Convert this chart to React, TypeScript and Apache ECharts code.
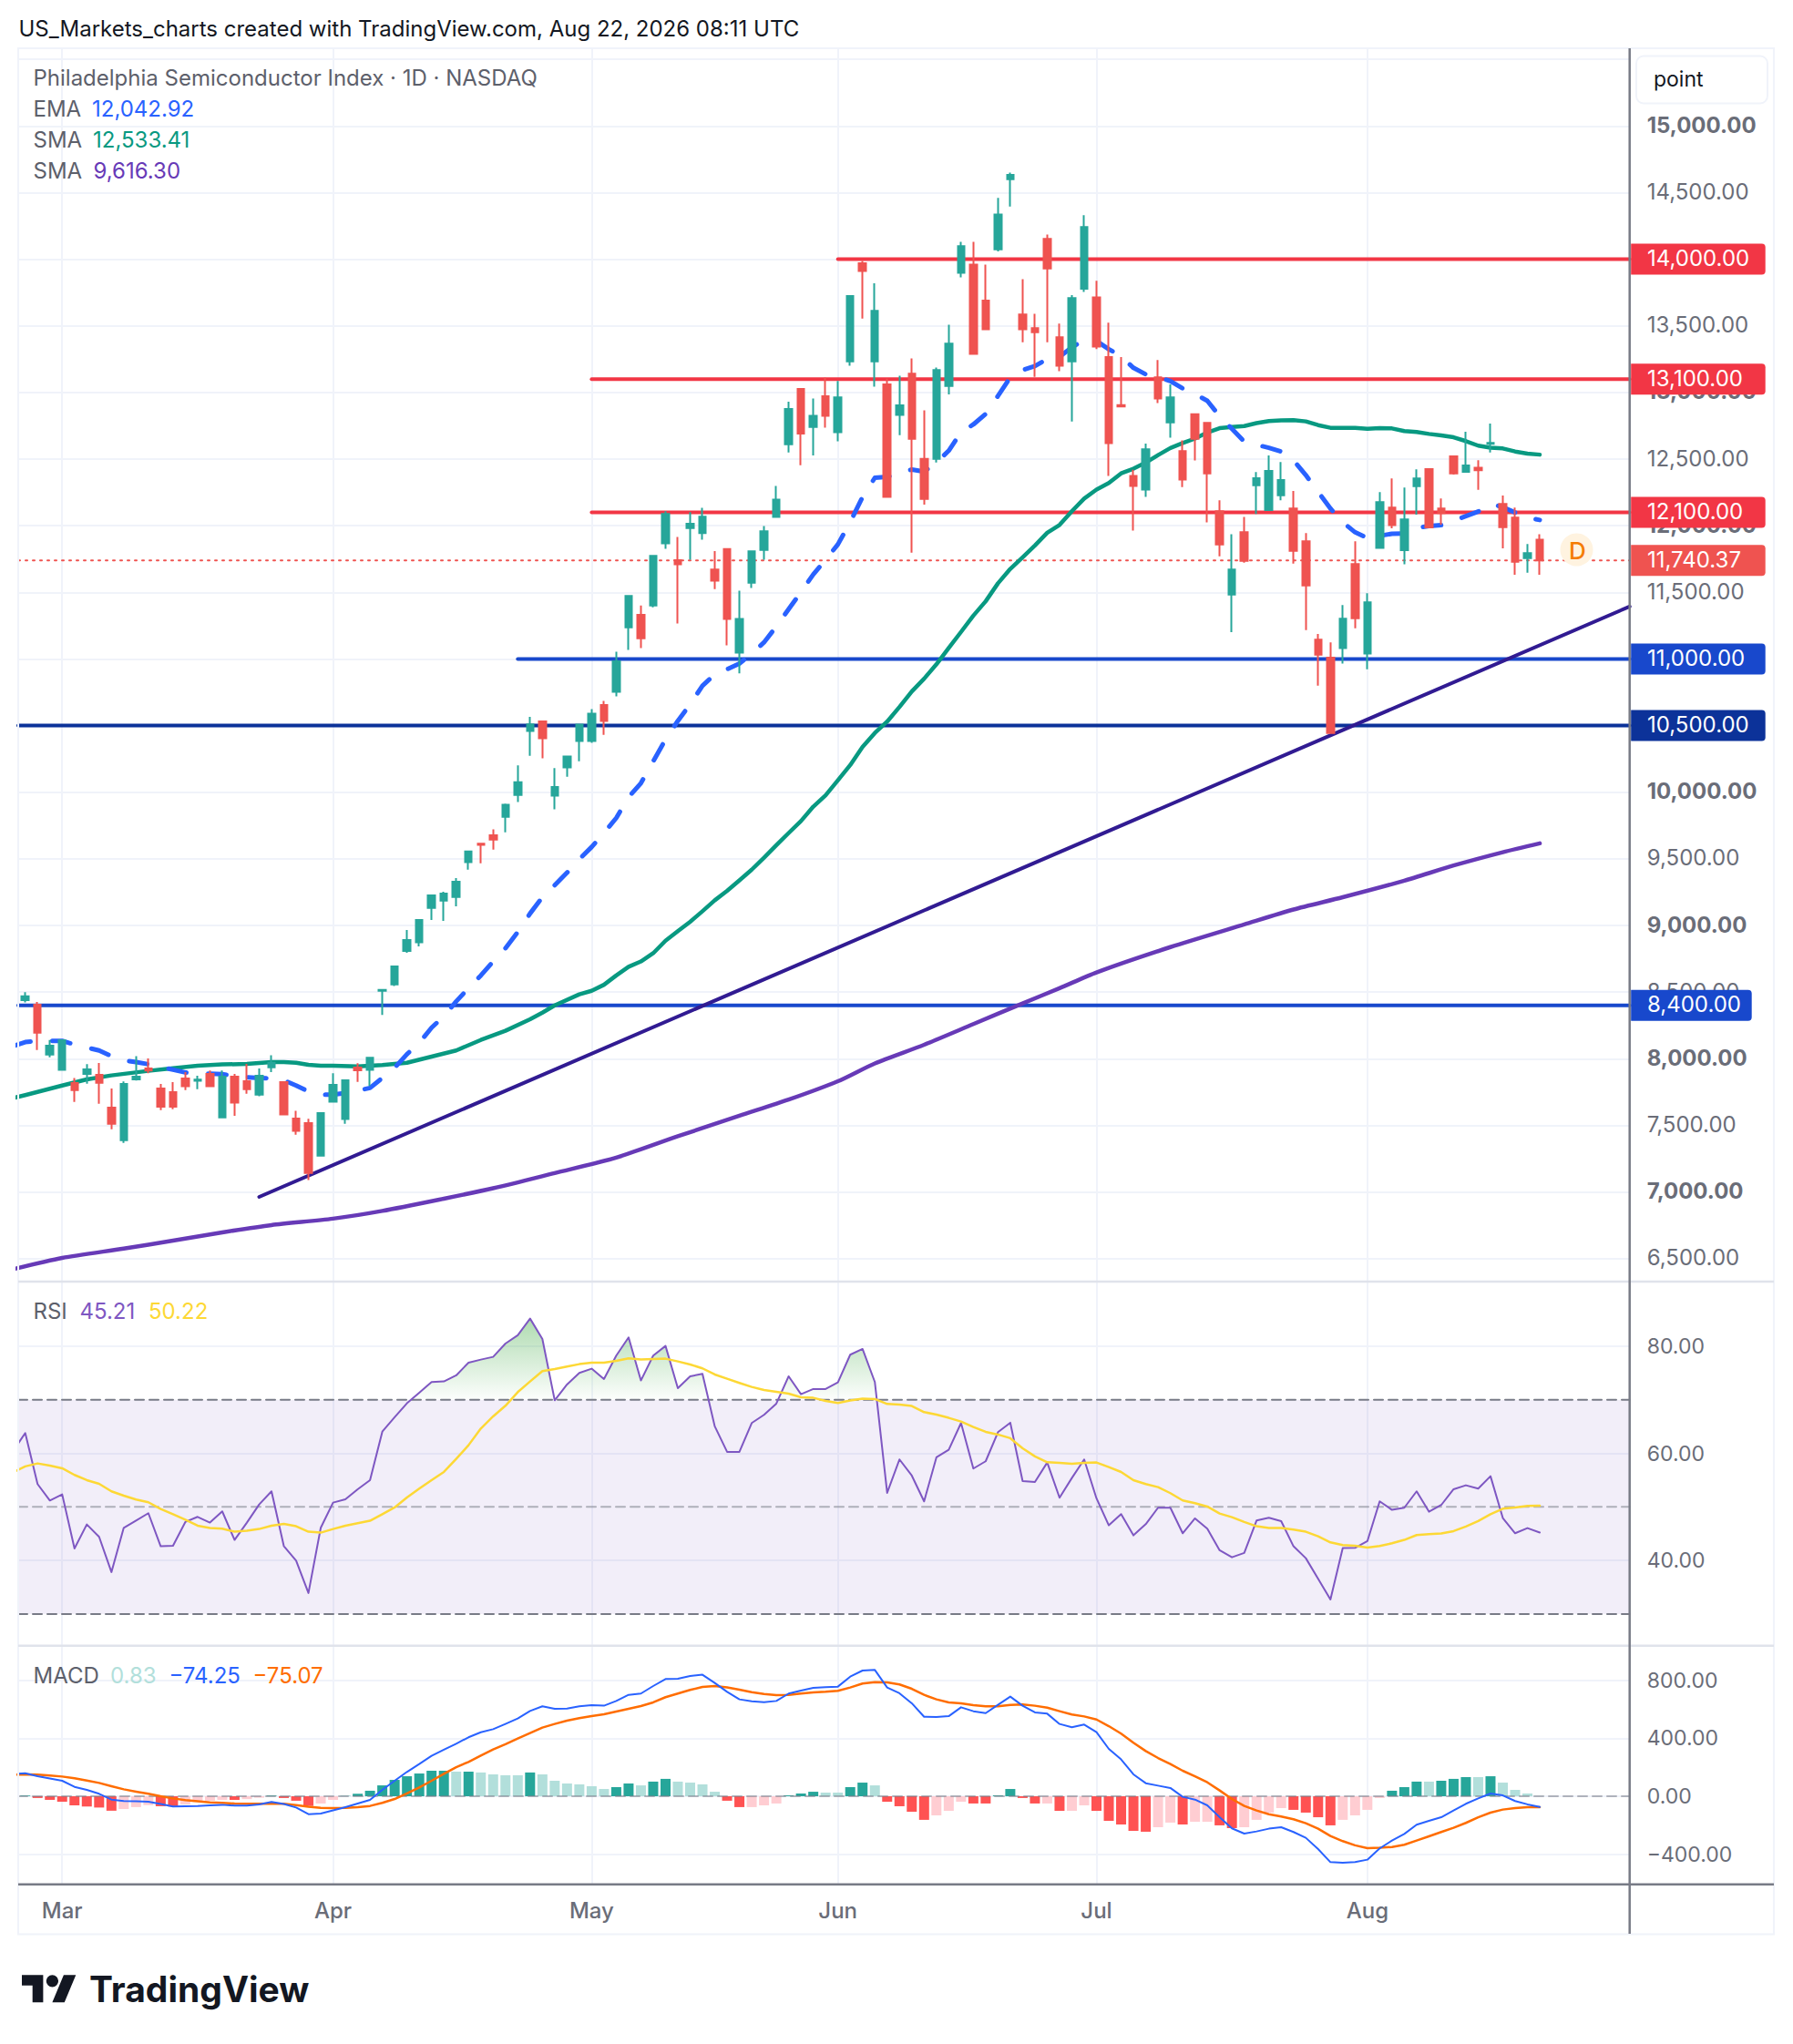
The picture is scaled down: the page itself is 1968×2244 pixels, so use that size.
import React, { useEffect, useRef } from "react";
import * as echarts from "echarts";

const monthNames = ["Mar", "Apr", "May", "Jun", "Jul", "Aug"];
const monthBars = [3, 25, 46, 66, 87, 109];

const opens = [8440,8406,8032,7916,7818,7886,7879,7633,7389,7845,7927,7777,7749,7852,7834,7886,7560,7866,7831,7731,7936,7825,7551,7517,7273,7677,7547,7934,7916,8510,8558,8809,8873,9132,9187,9214,9475,9614,9677,9815,9980,10459,10532,9974,10187,10385,10385,10654,10753,11238,11332,11402,11867,11742,11983,11944,11672,11825,11048,11572,11819,12066,12612,13027,12741,12971,12701,13233,13969,13233,13060,12831,13141,12501,12501,13049,13898,13960,13690,14074,14601,13585,13482,14152,13414,13233,13779,13714,13266,12905,12374,12271,13114,12776,12560,12836,12771,12109,11484,11952,12304,12117,12229,12129,11883,11145,11010,11081,11712,11040,11833,12136,11817,12297,12425,12129,12521,12405,12436,12614,12163,12061,11757,11896];
const highs = [8499,8426,8141,8145,7856,7959,7968,7777,7829,8020,8002,7811,7825,7900,7872,7911,7911,7886,7961,7927,8027,7830,7610,7549,7592,7891,7843,7966,8007,8517,8695,8966,9046,9226,9253,9356,9560,9614,9722,9915,10201,10566,10535,10181,10269,10515,10623,10685,11054,11473,11402,11774,12108,11915,12102,12134,11810,11825,11513,11813,11998,12298,12931,13033,12955,13112,13087,13731,13987,13820,13103,13125,13255,12866,13187,13509,14131,14131,13960,14460,14650,13850,13590,14185,13517,13731,14331,13839,13523,13266,12420,12617,13244,13060,12641,12841,12771,12190,11936,12066,12402,12528,12478,12261,11944,11188,11124,11404,11883,11493,12252,12354,12286,12423,12430,12204,12525,12705,12491,12767,12227,12136,11862,11937];
const lows = [8422,8066,8011,7910,7676,7813,7663,7471,7369,7836,7891,7615,7622,7765,7772,7790,7553,7572,7738,7718,7900,7575,7430,7089,7273,7675,7512,7827,7795,8328,8545,8795,8843,9041,9034,9144,9419,9467,9569,9699,9926,10274,10255,9872,10116,10232,10371,10430,10719,11068,11082,11388,11827,11266,11745,11895,11524,11102,10892,11533,11745,12066,12550,12454,12528,12736,12633,13201,13555,13044,12217,12679,11798,12158,12474,12985,13863,13290,13474,14058,14396,13377,13117,13377,13160,12782,13755,13325,12374,12895,11963,12217,12920,12660,12290,12490,12025,11771,11201,11722,12088,12111,12190,11716,11217,10800,10445,10965,11231,10923,11833,11981,11710,12083,11988,12008,12384,12398,12270,12550,11830,11632,11648,11632];
const closes = [8469,8196,8098,8139,7765,7920,7820,7512,7811,7866,7911,7640,7640,7793,7843,7793,7866,7670,7772,7872,7970,7581,7458,7143,7592,7804,7838,7913,8007,8517,8693,8891,9041,9226,9240,9328,9555,9606,9645,9906,10076,10510,10405,10039,10269,10507,10589,10535,10983,11473,11156,11774,12088,11711,12015,12068,11587,11300,11300,11808,11958,12196,12876,12692,12825,12825,12963,13723,13912,13612,12217,12904,12652,12201,13168,13366,14098,13290,13474,14336,14633,13474,13452,13931,13201,13709,14242,13344,12620,12895,12298,12574,12955,12963,12347,12652,12393,11860,11671,11736,12357,12411,12343,11812,11552,11033,10445,11302,11306,11425,12177,12004,12047,12354,11988,12095,12393,12452,12416,12621,11990,11730,11794,11740.37];

// first value of each indicator below belongs to the bar before the first candle
const ema = [8095,8125,8134,8134,8134,8107,8084,8062,8020,7986,7975,7959,7939,7918,7897,7891,7888,7884,7872,7861,7856,7852,7838,7799,7754,7729,7731,7743,7761,7781,7856,7932,8034,8118,8233,8319,8430,8530,8625,8730,8829,8951,9090,9212,9302,9396,9498,9589,9694,9807,9963,10068,10232,10396,10535,10660,10799,10884,10923,10966,11040,11125,11244,11374,11502,11635,11745,11860,12028,12215,12360,12366,12398,12422,12406,12474,12563,12701,12760,12839,12974,13114,13168,13198,13252,13268,13339,13393,13387,13325,13271,13185,13136,13116,13085,13030,12988,12938,12822,12727,12632,12607,12585,12557,12491,12380,12254,12129,12026,11951,11908,11924,11940,11942,11985,11997,12004,12038,12072,12106,12165,12140,12099,12061,12042.92];

const sma50Bars = [-1,0,3,5,7,10,12,14,16,18,20,21,22,23,24,25,27,29,31,33,35,37,39,41,42,43,45,46,47,48,49,50,51,52,53,54,55,56,57,58,59,60,61,62,63,64,65,66,67,68,69,70,71,72,73,74,75,76,77,78,79,80,81,82,83,84,85,86,87,88,89,90,91,92,93,94,95,96,97,98,99,100,101,102,103,104,105,106,107,108,109,110,111,112,113,114,115,116,117,118,119,120,121,122,123];
const sma50Values = [7705,7727,7799,7845,7875,7909,7929,7948,7957,7961,7975,7975,7970,7954,7948,7948,7943,7952,7970,8016,8062,8141,8210,8296,8346,8400,8483,8510,8555,8625,8690,8730,8792,8886,8957,9028,9107,9189,9260,9339,9419,9509,9603,9694,9784,9892,9977,10090,10204,10340,10445,10530,10640,10756,10852,10960,11082,11203,11325,11433,11568,11676,11763,11852,11947,12006,12109,12204,12271,12320,12393,12428,12474,12530,12583,12620,12654,12700,12732,12741,12748,12770,12785,12790,12792,12783,12755,12735,12735,12735,12728,12733,12730,12710,12703,12689,12678,12664,12635,12601,12585,12580,12557,12541,12533.41];

const sma200Bars = [-1,3,8,12,16,20,25,29,34,38,43,48,53,58,62,66,69,73,77,81,84,87,93,99,103,107,112,116,120,123];
const sma200Values = [6420,6505,6575,6635,6697,6752,6800,6858,6950,7028,7142,7258,7418,7572,7693,7831,7965,8105,8260,8415,8529,8648,8838,9008,9120,9212,9336,9450,9550,9616.3];

const rsi = [60.4,63.79,54.27,51.2,52.34,42.25,46.73,44.4,37.83,46.1,47.46,48.83,42.65,42.76,47.18,48.14,47.07,49.17,43.84,47.07,50.47,52.91,42.7,39.98,33.92,46.1,50.81,51.43,53.3,55.0,64.07,66.74,69.35,71.33,73.32,73.43,74.56,76.94,77.51,78.02,80.51,82.05,85.16,81.36,69.91,72.86,75.02,75.81,73.88,78.25,81.65,73.6,78.25,80.06,72.18,74.39,74.85,65.04,60.28,60.28,65.66,67.19,69.29,74.39,71.05,72.01,72.01,73.26,78.42,79.49,73.32,52.62,58.86,55.85,51.04,59.26,60.67,65.66,57.16,58.52,63.96,65.72,54.83,54.66,58.29,51.72,55.4,58.86,51.6,46.56,48.66,44.69,46.78,49.85,49.85,45.08,47.86,45.93,41.91,40.6,41.4,47.46,47.97,47.35,42.65,40.43,36.58,32.73,42.31,42.36,43.61,51.04,49.45,49.85,52.91,49.11,50.36,53.3,54.04,53.42,55.74,47.92,45.08,46.05,45.21];
const rsiMa = [56.42,57.56,58.12,57.73,57.21,55.97,55.0,54.32,52.91,52.11,51.38,50.87,49.62,48.65,47.63,46.5,46.05,45.93,45.37,45.54,45.88,46.5,46.84,46.39,45.37,45.2,45.88,46.5,46.95,47.41,48.65,49.9,51.77,53.42,55.0,56.53,58.97,61.52,64.64,66.91,68.89,71.44,73.43,75.36,75.75,76.21,76.66,76.94,76.94,77.28,77.74,77.51,77.62,77.68,77.17,76.6,75.87,74.73,73.94,73.15,72.41,71.84,71.5,71.16,70.48,70.37,69.8,69.4,69.86,70.2,70.14,69.23,69.12,68.84,67.7,67.25,66.63,65.95,64.93,64.02,63.51,62.83,60.96,59.43,58.35,58.24,58.07,58.24,58.29,57.44,56.53,55.0,54.27,53.7,52.57,51.21,50.7,50.07,48.77,48.09,47.18,46.39,46.05,46.05,45.76,45.37,44.52,43.38,42.87,42.76,42.42,42.7,43.21,43.84,44.74,44.91,45.03,45.48,46.33,47.35,48.65,49.67,49.9,50.19,50.22];

const macd = [153,159,138,122,107,65,44,17,-23,-33,-35,-38,-54,-71,-69,-67,-63,-59,-65,-65,-56,-40,-54,-78,-124,-119,-98,-75,-50,-25,44,107,168,222,279,321,363,407,442,463,499,537,589,621,604,606,621,629,625,658,700,709,761,809,811,830,839,782,721,669,656,650,658,709,730,748,753,757,826,868,872,751,711,642,549,547,553,614,587,574,631,688,625,579,570,499,476,495,442,327,254,151,90,73,57,-4,-23,-63,-145,-222,-258,-243,-224,-214,-247,-287,-365,-455,-459,-455,-438,-360,-306,-260,-197,-170,-145,-98,-52,-15,19,6,-33,-56,-74.25];
const macdSignal = [149,151,149,143,136,124,109,92,69,48,32,17,0,-15,-27,-35,-42,-46,-50,-52,-52,-50,-52,-61,-73,-80,-82,-80,-75,-67,-46,-19,19,61,107,155,201,237,281,323,359,398,436,474,499,522,539,554,566,585,604,623,648,684,709,734,755,761,751,736,719,706,698,700,709,717,721,728,751,778,788,786,772,742,700,669,648,642,629,621,621,631,633,625,612,587,564,551,530,484,432,369,312,264,222,176,138,96,40,-19,-67,-98,-124,-140,-159,-186,-224,-274,-310,-339,-358,-356,-350,-335,-306,-277,-247,-218,-184,-145,-113,-92,-82,-75,-75.07];
const macdHist = [4,-12,-25,-38,-63,-71,-78,-100,-88,-75,-61,-69,-71,-57,-40,-31,-25,-25,-20,-10,5,-12,-31,-67,-50,-25,2,17,38,75,113,138,157,176,176,170,170,164,151,145,145,164,151,107,88,82,69,50,63,88,75,101,120,101,94,82,31,-31,-75,-75,-63,-50,6,19,31,25,25,63,94,75,-38,-69,-107,-163,-132,-101,-38,-50,-50,6,50,-12,-50,-50,-101,-101,-63,-101,-170,-195,-239,-245,-214,-182,-195,-176,-176,-201,-220,-214,-163,-113,-82,-94,-113,-145,-201,-163,-132,-94,-12,38,63,101,101,107,120,132,132,138,94,44,19,0.83];
const macdHistPaleBars = [8,9,10,13,14,15,16,18,19,24,25,35,37,38,39,40,42,43,44,45,46,47,50,53,54,55,56,59,60,61,65,66,69,74,75,76,83,85,86,92,93,95,96,99,100,101,102,107,108,109,110,114,118,120,121,122,123];

const rsiLevels = [70, 50, 30];
const rsiTicks = [40, 60, 80];
const macdTicks = [-400, 0, 400, 800];
const priceGrid = [6500,7000,7500,8000,8500,9000,9500,10000,10500,11000,11500,12000,12500,13000,13500,14000,14500,15000,15500];
const priceLabels = [6500,7000,7500,8000,8500,9000,9500,10000,10500,11000,11500,12000,12500,13000,13500,14000,14500,15000];

const levelValues = [14000, 13100, 12100, 11000, 10500, 8400];
const levelStartBars = [66, 46, 46, 40, null, null];
const levelColors = ["#f23645", "#f23645", "#f23645", "#1848cc", "#0c3299", "#1848cc"];
const lastPrice = 11740.37;
const trendBars = [19, null];
const trendValues = [6963, 11394];

const FONT = "Inter, sans-serif";
const TEXT = "#6a6d78";
const GRID = "#f0f3fa";
const L = 20;
const R = 1788.7;
const END = 1947;
const xMin = -0.57;
const xMax = 130.3;
const paleSet = new Set(macdHistPaleBars);
const money = (v: number) =>
  v.toLocaleString("en-US", { minimumFractionDigits: 2, maximumFractionDigits: 2 });

echarts.graphic.registerShape(
  "tvlogo",
  echarts.graphic.extendPath(
    "M14 22H7V11H0V4h14v18zM28 22h-8l7.5-18h8L28 22zM24 8a4 4 0 1 1-8 0 4 4 0 0 1 8 0z",
    {}
  )
);

function lineSeries(name: string, data: any[], axis: number, color: string, width: number, z: number, type: any = "solid", extra: any = {}) {
  return {
    name,
    type: "line",
    xAxisIndex: axis,
    yAxisIndex: axis,
    data,
    showSymbol: false,
    symbol: "none",
    silent: true,
    z,
    lineStyle: { color, width, type, cap: "round", join: "round" },
    ...extra,
  };
}
const indexed = (arr: number[]) => arr.map((v, i) => [i - 1, v]);
const paired = (bars: number[], vals: number[]) => bars.map((b, i) => [b, vals[i]]);

function xAxis(index: number) {
  return {
    type: "value",
    gridIndex: index,
    min: xMin,
    max: xMax,
    axisLine: { show: false },
    axisTick: { show: false, customValues: monthBars },
    splitLine: { show: true, lineStyle: { color: GRID, width: 2 } },
    axisLabel:
      index === 2
        ? {
            show: true,
            customValues: monthBars,
            formatter: (v: number) => monthNames[monthBars.indexOf(v)],
            color: TEXT,
            fontFamily: FONT,
            fontSize: 24,
            fontWeight: 500,
            margin: 17,
          }
        : { show: false },
  };
}
function yAxis(index: number, min: number, max: number, ticks: number[], labels: number[], formatter: any, fontSize: number, rich?: any) {
  return {
    type: "value",
    gridIndex: index,
    position: "right",
    min,
    max,
    axisLine: { show: false },
    axisTick: { show: false, customValues: ticks },
    splitLine: { show: true, lineStyle: { color: GRID, width: 2 } },
    axisLabel: {
      show: true,
      customValues: labels,
      formatter,
      rich,
      color: TEXT,
      fontFamily: FONT,
      fontSize,
      margin: 19,
      align: "left",
      padding: [0, 0, 2, 0],
    },
  };
}

function tagItem(params: any, api: any) {
  const i = params.dataIndex;
  const v = api.value(1);
  const p = api.coord([xMax, v]);
  const label = money(v);
  const w = label.length >= 9 ? 147.5 : 132.5;
  return {
    type: "group",
    children: [
      {
        type: "rect",
        shape: { x: p[0] + 1.5, y: p[1] - 17, width: w, height: 34, r: [0, 4, 4, 0] },
        style: { fill: i < levelColors.length ? levelColors[i] : "#ef5350" },
      },
      {
        type: "text",
        x: 1808,
        y: p[1] - 1,
        style: {
          text: label,
          fill: "#ffffff",
          fontFamily: FONT,
          fontSize: 24,
          align: "left",
          verticalAlign: "middle",
        },
      },
    ],
  };
}

function textEl(text: string, x: number, y: number, fill: string, fontSize = 23, extra: any = {}) {
  return {
    type: "text",
    x,
    y,
    z: 30,
    silent: true,
    style: { text, fill, fontFamily: FONT, fontSize, align: "left", verticalAlign: "middle", ...extra },
  };
}
function hLine(x1: number, x2: number, y: number, stroke: string, lineWidth = 2) {
  return { type: "line", z: 25, silent: true, shape: { x1, y1: y, x2, y2: y }, style: { stroke, lineWidth } };
}
function vLine(x: number, y1: number, y2: number, stroke: string, lineWidth = 2) {
  return { type: "line", z: 25, silent: true, shape: { x1: x, y1, x2: x, y2 }, style: { stroke, lineWidth } };
}

export default function App() {
  const ref = useRef<HTMLDivElement>(null);
  useEffect(() => {
    document.body.style.margin = "0";
    document.body.style.overflow = "hidden";
    const chart = echarts.init(ref.current!, undefined, { renderer: "svg" });

    const levelSeries = levelValues.map((v, i) =>
      lineSeries(`Level ${v}`, [[levelStartBars[i] ?? xMin, v], [xMax, v]], 0, levelColors[i], 4, 2)
    );

    chart.setOption({
      animation: false,
      backgroundColor: "#ffffff",
      grid: [
        { left: L, top: 53, width: R - L, height: 1354 },
        { left: L, top: 1407, width: R - L, height: 399.7 },
        { left: L, top: 1806.7, width: R - L, height: 262 },
      ],
      xAxis: [xAxis(0), xAxis(1), xAxis(2)],
      yAxis: [
        yAxis(0, 6327.5, 15583, priceGrid, priceLabels,
          (v: number) => `{${v % 1000 === 0 ? "b" : "n"}|${money(v)}}`,
          24,
          {
            b: { fontFamily: FONT, fontSize: 24, fontWeight: 700, color: TEXT },
            n: { fontFamily: FONT, fontSize: 24, color: TEXT },
          }),
        yAxis(1, 24.09, 92.07, rsiTicks, rsiTicks, (v: number) => money(v), 23),
        yAxis(2, -608.2, 1039.6, macdTicks, macdTicks, (v: number) => money(v).replace("-", "−"), 23),
      ],
      series: [
        lineSeries("Last", [[xMin, lastPrice], [xMax, lastPrice]], 0, "#ef5350", 2, 1, [2, 6]),
        ...levelSeries,
        lineSeries("Trend", [[trendBars[0], trendValues[0]], [xMax, trendValues[1]]], 0, "#311b92", 4, 2),
        lineSeries("SMA 200", paired(sma200Bars, sma200Values), 0, "#673ab7", 4.5, 3, "solid", { smooth: 0.25 }),
        lineSeries("SMA 50", paired(sma50Bars, sma50Values), 0, "#089981", 4.5, 3),
        lineSeries("EMA", indexed(ema), 0, "#2962ff", 5, 3, [20, 24]),
        {
          name: "Philadelphia Semiconductor Index",
          type: "candlestick",
          xAxisIndex: 0,
          yAxisIndex: 0,
          z: 6,
          silent: true,
          barWidth: 8,
          encode: { x: 0, y: [1, 2, 3, 4] },
          itemStyle: {
            color: "#26a69a",
            color0: "#ef5350",
            borderColor: "#26a69a",
            borderColor0: "#ef5350",
            borderWidth: 2,
          },
          data: opens.map((o, i) => [i, o, closes[i], lows[i], highs[i]]),
        },
        {
          name: "Price tags",
          type: "custom",
          xAxisIndex: 0,
          yAxisIndex: 0,
          z: 12,
          silent: true,
          clip: false,
          encode: { x: 0, y: 1 },
          renderItem: tagItem,
          data: [...levelValues, lastPrice].map((v) => [xMax, v]),
        },
        lineSeries("RSI", indexed(rsi), 1, "#7e57c2", 2, 4, "solid", {
          areaStyle: {
            origin: 70,
            opacity: 1,
            color: {
              type: "linear",
              x: 0,
              y: 0,
              x2: 0,
              y2: 1,
              colorStops: [
                { offset: 0, color: "rgba(76,175,80,0.45)" },
                { offset: 0.286, color: "rgba(76,175,80,0.02)" },
                { offset: 0.287, color: "rgba(76,175,80,0)" },
                { offset: 1, color: "rgba(76,175,80,0)" },
              ],
            },
          },
          markArea: {
            silent: true,
            itemStyle: { color: "rgba(126,87,194,0.1)" },
            data: [[{ yAxis: 70 }, { yAxis: 30 }]],
          },
        }),
        lineSeries("RSI MA", indexed(rsiMa), 1, "#fdd835", 2.5, 5),
        ...rsiLevels.map((v) =>
          lineSeries(`RSI ${v}`, [[xMin, v], [xMax, v]], 1,
            v === 50 ? "rgba(120,123,134,0.55)" : "#787b86", 2, 3, [10, 6])
        ),
        {
          name: "Histogram",
          type: "bar",
          xAxisIndex: 2,
          yAxisIndex: 2,
          barWidth: 11,
          z: 2,
          silent: true,
          data: macdHist.map((v, i) => ({
            value: [i, v],
            itemStyle: {
              color: v >= 0 ? (paleSet.has(i) ? "#b2dfdb" : "#26a69a") : paleSet.has(i) ? "#ffcdd2" : "#ff5252",
            },
          })),
        },
        lineSeries("Zero", [[xMin, 0], [xMax, 0]], 2, "rgba(120,123,134,0.55)", 2, 3, [10, 6]),
        lineSeries("Signal", indexed(macdSignal), 2, "#ff6d00", 2.5, 4),
        lineSeries("MACD", indexed(macd), 2, "#2962ff", 2, 5),
      ],
      graphic: [
        {
          type: "rect", z: 24, silent: true,
          shape: { x: L, y: 53, width: END - L, height: 2123.5 - 53 },
          style: { fill: "transparent", stroke: GRID, lineWidth: 2 },
        },
        hLine(L, END, 1407, "#e0e3eb", 2.5),
        hLine(L, END, 1806.7, "#e0e3eb", 2.5),
        hLine(L, END, 2068.7, "#787b86", 2.5),
        vLine(R, 53, 2123, "#787b86", 2.5),
        {
          type: "rect", z: 25, silent: true,
          shape: { x: 1796, y: 61.5, width: 144, height: 52, r: 8 },
          style: { fill: "#ffffff", stroke: GRID, lineWidth: 2 },
        },
        textEl("point", 1815, 87, "#131722"),
        textEl("US_Markets_charts created with TradingView.com, Aug 22, 2026 08:11 UTC", 20.5, 31, "#131722", 24),
        textEl("Philadelphia Semiconductor Index · 1D · NASDAQ", 36.5, 85.5, "#5d606b", 24),
        textEl("EMA", 36.5, 119.5, "#5d606b", 24),
        textEl("12,042.92", 101, 119.5, "#2962ff", 24),
        textEl("SMA", 36.5, 153.5, "#5d606b", 24),
        textEl("12,533.41", 102, 153.5, "#089981", 24),
        textEl("SMA", 36.5, 187.5, "#5d606b", 24),
        textEl("9,616.30", 102.5, 187.5, "#673ab7", 24),
        textEl("RSI", 36.5, 1439, "#5d606b", 24),
        textEl("45.21", 87.5, 1439, "#7e57c2", 24),
        textEl("50.22", 163, 1439, "#fdd835", 24),
        textEl("MACD", 36.5, 1839, "#5d606b", 24),
        textEl("0.83", 121, 1839, "#b2dfdb", 24),
        textEl("−74.25", 185.5, 1839, "#2962ff", 24),
        textEl("−75.07", 277.5, 1839, "#ff6d00", 24),
        {
          type: "circle", z: 26, silent: true,
          shape: { cx: 1730.5, cy: 603.5, r: 18 },
          style: { fill: "#fff3e0" },
        },
        textEl("D", 1722, 604, "#f57c00", 26, { fontWeight: 500 }),
        {
          type: "tvlogo", z: 30, silent: true,
          x: 24, y: 2161.5, scaleX: 1.67, scaleY: 1.67,
          style: { fill: "#131722" },
        },
        textEl("TradingView", 98, 2183, "#131722", 39, { fontWeight: 700 }),
      ],
    });
    return () => chart.dispose();
  }, []);
  return <div ref={ref} style={{ width: 1968, height: 2244, background: "#fff" }} />;
}
